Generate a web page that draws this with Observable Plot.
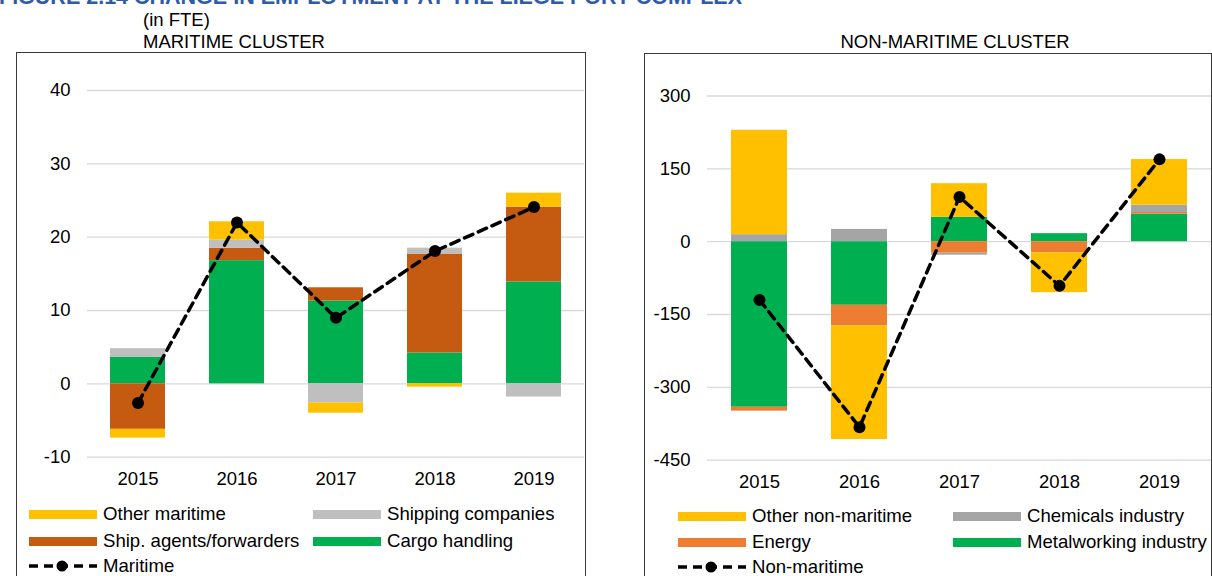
<!DOCTYPE html>
<html>
<head>
<meta charset="utf-8">
<script src="https://cdn.jsdelivr.net/npm/d3@7"></script>
<script src="https://cdn.jsdelivr.net/npm/@observablehq/plot@0.6"></script>
<style>
  html, body { margin: 0; padding: 0; background: #fff; }
  body { width: 1212px; height: 576px; position: relative; overflow: hidden;
         font-family: "Liberation Sans", Arial, sans-serif; color: #000; }
  .abs { position: absolute; white-space: nowrap; }
  .t18 { font-size: 18.5px; line-height: 18px; }
  .frame { position: absolute; border: 1px solid #3a3a3a; box-sizing: border-box; }
  .leg { position: absolute; display: flex; align-items: center; height: 18px; font-size: 18.6px; white-space: nowrap; }
  .sw { display: inline-block; width: 68px; height: 9px; margin-right: 6px; }
  .plot { position: absolute; }
</style>
</head>
<body>
<div class="abs" style="left:-1px; top:-13px; font-size:21.5px; line-height:21.5px; font-weight:bold; color:#2E5AAC;">FIGURE 2.14 CHANGE IN EMPLOYMENT AT THE LIEGE PORT COMPLEX</div>
<div class="abs t18" style="left:143px; top:11px;">(in FTE)</div>
<div class="abs t18" style="left:143px; top:33px;">MARITIME CLUSTER</div>
<div class="abs t18" style="left:955px; top:33px; transform:translateX(-50%);">NON-MARITIME CLUSTER</div>

<div class="frame" style="left:16px; top:52px; width:570px; height:600px;"></div>
<div class="frame" style="left:644px; top:53px; width:568px; height:600px;"></div>

<div id="left" class="plot" style="left:0px; top:53px;"></div>
<div id="right" class="plot" style="left:620px; top:53px;"></div>
<div id="legends"></div>

<script>
// ---------- DATA ----------
const years = ["2015", "2016", "2017", "2018", "2019"];

// Maritime cluster (FTE change)
const maritimeSeries = ["Cargo handling", "Ship. agents/forwarders", "Shipping companies", "Other maritime"];
const maritimeColors = ["#00B050", "#C55A11", "#BFBFBF", "#FFC000"];
const cargoHandling     = [3.6, 16.8, 11.3, 4.2, 13.9];
const shipAgents        = [-6.2, 1.7, 1.8, 13.5, 10.2];
const shippingCompanies = [1.2, 1.1, -2.6, 0.8, -1.8];
const otherMaritime     = [-1.2, 2.5, -1.4, -0.45, 1.9];
const maritimeTotal     = [-2.6, 22.0, 9.0, 18.1, 24.1];
const maritimeTicks     = [-10, 0, 10, 20, 30, 40];

// Non-maritime cluster (FTE change)
const nonMaritimeSeries = ["Metalworking industry", "Energy", "Chemicals industry", "Other non-maritime"];
const nonMaritimeColors = ["#00B050", "#ED7D31", "#A5A5A5", "#FFC000"];
const metalworking      = [-341, -131, 50, 16.5, 56.6];
const energy            = [-8, -42.5, -23.7, -23, 3.5];
const chemicals         = [14.4, 25.3, -4.1, 0, 15];
const otherNonMaritime  = [215, -234, 69.4, -82, 94];
const nonMaritimeTotal  = [-120, -382, 92, -91, 169.5];
const nonMaritimeTicks  = [-450, -300, -150, 0, 150, 300];

// Legend layouts (label order as in the reference)
const maritimeLegend = [["Other maritime", "#FFC000"], ["Shipping companies", "#BFBFBF"], ["Ship. agents/forwarders", "#C55A11"], ["Cargo handling", "#00B050"]];
const nonMaritimeLegend = [["Other non-maritime", "#FFC000"], ["Chemicals industry", "#A5A5A5"], ["Energy", "#ED7D31"], ["Metalworking industry", "#00B050"]];

// ---------- BUILD ----------
function rows(series, arrays) {
  const out = [];
  series.forEach((s, si) => years.forEach((y, yi) => out.push({year: y, series: s, value: arrays[si][yi]})));
  return out;
}
const maritimeRows = rows(maritimeSeries, [cargoHandling, shipAgents, shippingCompanies, otherMaritime]);
const nonMaritimeRows = rows(nonMaritimeSeries, [metalworking, energy, chemicals, otherNonMaritime]);
const maritimeLine = years.map((y, i) => ({year: y, value: maritimeTotal[i]}));
const nonMaritimeLine = years.map((y, i) => ({year: y, value: nonMaritimeTotal[i]}));

function chart({data, line, series, colors, domain, ticks, width, marginTop, marginBottom}) {
  return Plot.plot({
    width, height: 440,
    marginLeft: 87, marginRight: 1, marginTop, marginBottom,
    style: {fontFamily: "'Liberation Sans', Arial, sans-serif", fontSize: "18.5px", color: "#000", background: "transparent"},
    x: {type: "band", domain: years, paddingInner: 0.44, paddingOuter: 0.22, label: null},
    y: {domain, label: null},
    color: {domain: series, range: colors},
    marks: [
      Plot.gridY(ticks, {stroke: "#D9D9D9", strokeOpacity: 1, strokeWidth: 1.3}),
      Plot.barY(data, Plot.stackY({order: null}, {x: "year", y: "value", z: "series", fill: "series", inset: 0})),
      Plot.line(line, {x: "year", y: "value", stroke: "#000", strokeWidth: 3.5, strokeDasharray: "9,6"}),
      Plot.dot(line, {x: "year", y: "value", r: 6, fill: "#000"}),
      Plot.axisY({ticks, tickSize: 0, tickPadding: 17, fontSize: 18.5, label: null, tickFormat: d => String(d)}),
      Plot.axisX({tickSize: 0, tickPadding: 15, fontSize: 18.5, label: null})
    ]
  });
}

document.getElementById("left").append(chart({
  data: maritimeRows, line: maritimeLine, series: maritimeSeries, colors: maritimeColors,
  domain: [-10, 40], ticks: maritimeTicks, width: 585, marginTop: 37, marginBottom: 36.3
}));
document.getElementById("right").append(chart({
  data: nonMaritimeRows, line: nonMaritimeLine, series: nonMaritimeSeries, colors: nonMaritimeColors,
  domain: [-450, 300], ticks: nonMaritimeTicks, width: 592, marginTop: 42.5, marginBottom: 33.3
}));

// ---------- LEGENDS ----------
const legends = document.getElementById("legends");
function addSwatch(x, y, label, color) {
  const d = document.createElement("div");
  d.className = "leg";
  d.style.left = x + "px"; d.style.top = (y - 9) + "px";
  d.innerHTML = `<span class="sw" style="background:${color}"></span><span>${label}</span>`;
  legends.append(d);
}
function addLineKey(x, y, label) {
  const d = document.createElement("div");
  d.className = "leg";
  d.style.left = x + "px"; d.style.top = (y - 9) + "px";
  d.innerHTML = `<svg width="68" height="14" style="margin-right:6px"><line x1="0" x2="68" y1="7" y2="7" stroke="#000" stroke-width="3.5" stroke-dasharray="9,6"/><circle cx="33" cy="7" r="5.5" fill="#000"/></svg><span>${label}</span>`;
  legends.append(d);
}
const lCols = [29, 313], lRows = [514, 541, 566];
maritimeLegend.forEach(([l, c], i) => addSwatch(lCols[i % 2], lRows[Math.floor(i / 2)], l, c));
addLineKey(29, lRows[2], "Maritime");
const rCols = [678, 953], rRows = [516, 542, 567];
nonMaritimeLegend.forEach(([l, c], i) => addSwatch(rCols[i % 2], rRows[Math.floor(i / 2)], l, c));
addLineKey(678, rRows[2], "Non-maritime");
</script>
</body>
</html>
